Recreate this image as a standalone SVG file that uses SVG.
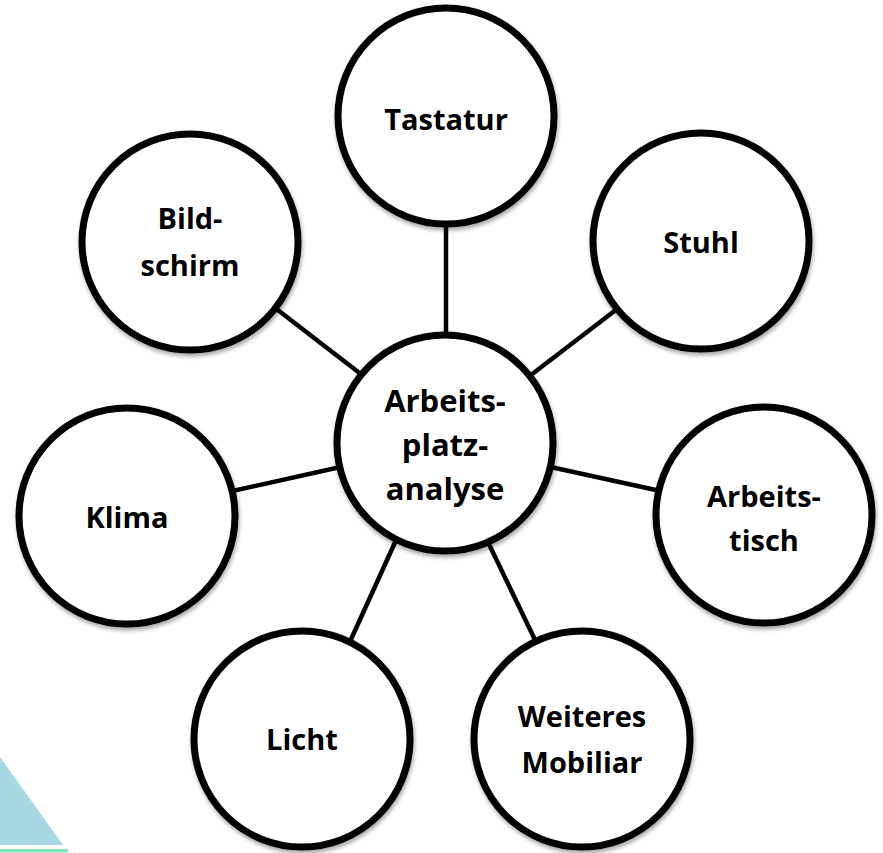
<svg xmlns="http://www.w3.org/2000/svg" width="883" height="853" viewBox="0 0 883 853">
<defs>
<filter id="sh" x="-20%" y="-20%" width="140%" height="140%">
<feGaussianBlur in="SourceAlpha" stdDeviation="2"/>
<feOffset dx="1" dy="3" result="b"/>
<feComponentTransfer><feFuncA type="linear" slope="0.35"/></feComponentTransfer>
<feMerge><feMergeNode/><feMergeNode in="SourceGraphic"/></feMerge>
</filter>
</defs>
<style>
.c{fill:#fff;stroke:#000;stroke-width:7;filter:url(#sh)}
.l{stroke:#000;stroke-width:4.5;fill:none}
.t{font-family:"Open Sans","Noto Sans","Liberation Sans",sans-serif;font-weight:700;font-size:29px;fill:#000;text-anchor:middle}
.tc{font-size:31px}
</style>
<rect width="883" height="853" fill="#fff"/>
<g id="decor">
<polygon points="0,757 63,845 0,845" fill="#A7D8E3"/>
<rect x="0" y="849" width="68" height="3.5" fill="#82E5B5"/>
</g>
<g id="connectors">
<line class="l" x1="446" y1="220" x2="446" y2="340"/>
<line class="l" x1="270" y1="304" x2="366" y2="378"/>
<line class="l" x1="228" y1="492" x2="345" y2="466"/>
<line class="l" x1="621" y1="306" x2="527" y2="378"/>
<line class="l" x1="546" y1="466" x2="665" y2="492"/>
<line class="l" x1="397" y1="538" x2="348" y2="646"/>
<line class="l" x1="486" y1="538" x2="537" y2="644"/>
</g>
<g id="node-tastatur">
<circle class="c" cx="446" cy="116" r="108"/>
<text class="t" x="446" y="130">Tastatur</text>
</g>
<g id="node-stuhl">
<circle class="c" cx="701" cy="241" r="108"/>
<text class="t" x="701" y="253">Stuhl</text>
</g>
<g id="node-bildschirm">
<circle class="c" cx="190" cy="242" r="108"/>
<text class="t" x="190" y="229">Bild-</text>
<text class="t" x="190" y="276">schirm</text>
</g>
<g id="node-klima">
<circle class="c" cx="127" cy="516" r="108"/>
<text class="t" x="127" y="528">Klima</text>
</g>
<g id="node-arbeitstisch">
<circle class="c" cx="764" cy="515" r="108"/>
<text class="t" x="764" y="507">Arbeits-</text>
<text class="t" x="764" y="551">tisch</text>
</g>
<g id="node-licht">
<circle class="c" cx="302" cy="739" r="108"/>
<text class="t" x="302" y="750">Licht</text>
</g>
<g id="node-mobiliar">
<circle class="c" cx="582" cy="739" r="108"/>
<text class="t" x="582" y="727">Weiteres</text>
<text class="t" x="582" y="773">Mobiliar</text>
</g>
<g id="node-center">
<circle class="c" cx="445" cy="443" r="108"/>
<text class="t tc" x="445" y="412">Arbeits-</text>
<text class="t tc" x="445" y="456">platz-</text>
<text class="t tc" x="445" y="500">analyse</text>
</g>
</svg>
